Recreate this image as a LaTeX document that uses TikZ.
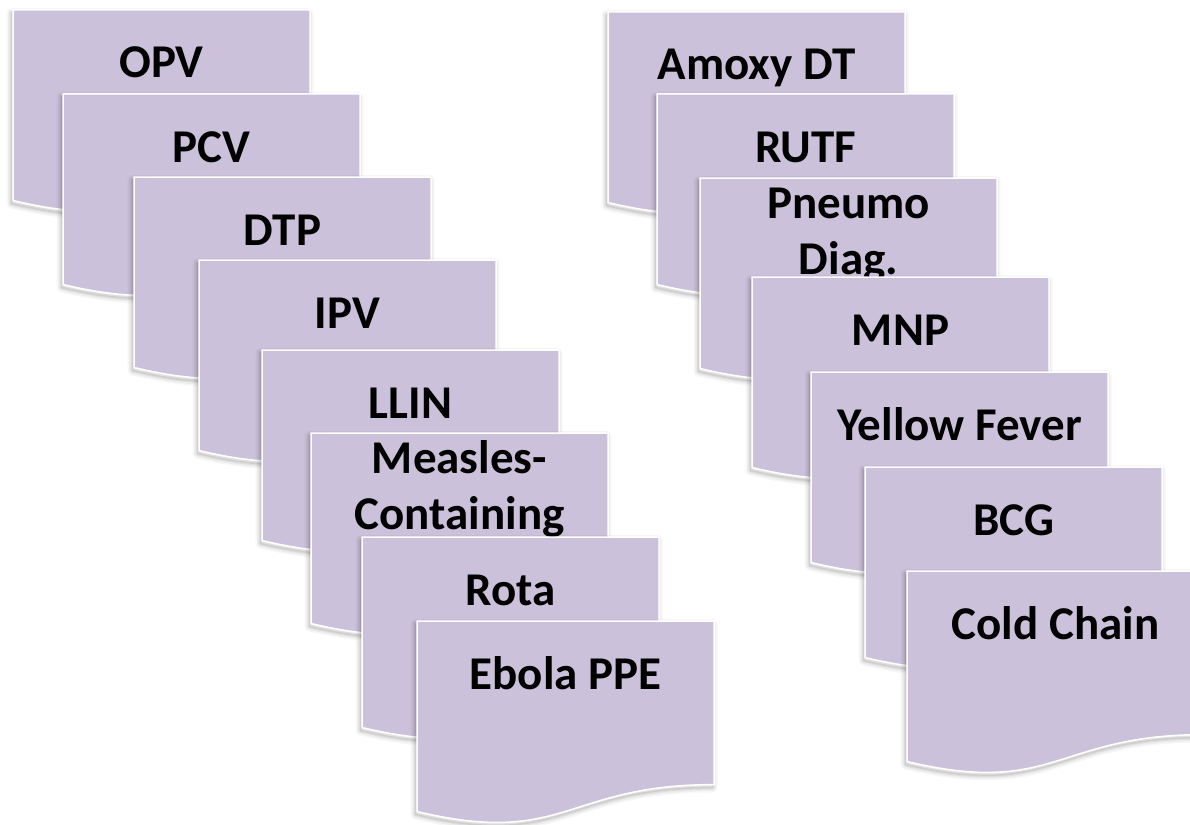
\documentclass[tikz,border=0pt]{standalone}
\usepackage{fontspec}
\setmainfont{Carlito}
\definecolor{lav}{HTML}{CCC1DA}
\tikzset{
  docshape/.style={fill=lav, draw=white, line width=1.5pt, line join=miter},
  docshadow/.style={draw=black, line join=round},
  doclabel/.style={anchor=base, inner sep=0pt, text=black,
    font=\fontsize{47}{56}\selectfont\bfseries},
}
% #1 name, #2 x, #3 y (top-left, px), #4 baseline offset, #5 text
\newcommand\DocBox[5]{%
  \begin{scope}[shift={(#2,#3)}]
    \begin{scope}[yshift=-3pt, xshift=-1.5pt]
      \foreach \w/\o in {10/0.03,7/0.04,4/0.06,1.5/0.08}{
        \draw[docshadow, draw opacity=\o, line width=\w pt]
          (0,0) -- (297,0) -- (297,163.6) .. controls (148.5,163.6) and (148.5,226) .. (0,190.5) -- cycle;
      }
    \end{scope}
    \draw[docshape]
      (0,0) -- (297,0) -- (297,163.6) .. controls (148.5,163.6) and (148.5,226) .. (0,190.5) -- cycle;
    \node[doclabel] (#1) at (148.5,#4) {\begin{tabular}[t]{@{}c@{}}#5\end{tabular}};
  \end{scope}}
\begin{document}
\begin{tikzpicture}[x=1pt,y=-1pt]
  \useasboundingbox (0,0) rectangle (1190,824);
  \clip (0,0) rectangle (1190,824);
  % left stack
  \DocBox{opv}{13}{10}{68}{OPV}
  \DocBox{pcv}{63}{94}{68}{PCV}
  \DocBox{dtp}{134}{177}{68}{DTP}
  \DocBox{ipv}{199}{260}{68}{IPV}
  \DocBox{llin}{262}{350}{68}{LLIN}
  \DocBox{measles}{311}{433}{40}{Measles-\\Containing}
  \DocBox{rota}{362}{537}{68}{Rota}
  \DocBox{ebola}{417}{621}{68}{Ebola PPE}
  % right stack
  \DocBox{amoxy}{608}{12}{68}{Amoxy DT}
  \DocBox{rutf}{657}{94}{68}{RUTF}
  \DocBox{pneumo}{700}{178}{40}{Pneumo\\Diag.}
  \DocBox{mnp}{752}{277}{68}{MNP}
  \DocBox{yf}{811}{372}{68}{Yellow Fever}
  \DocBox{bcg}{865}{467}{68}{BCG}
  \DocBox{cold}{907}{571}{68}{Cold Chain}
\end{tikzpicture}
\end{document}
